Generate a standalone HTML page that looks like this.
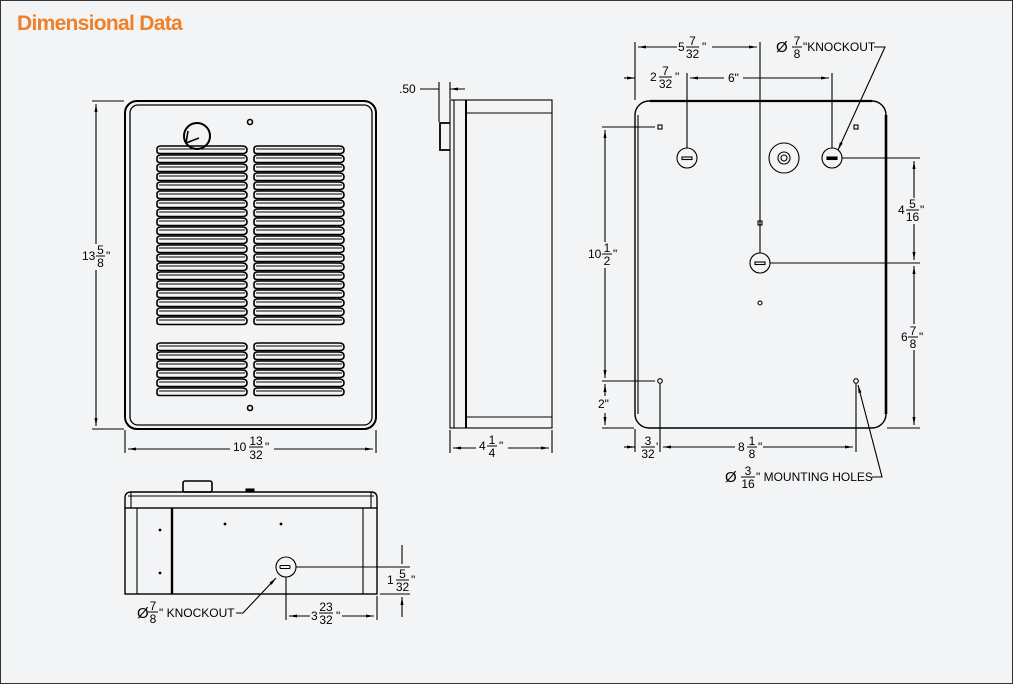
<!DOCTYPE html>
<html><head><meta charset="utf-8"><style>
html,body{margin:0;padding:0;background:#f3f4f6}
svg{display:block}
text{font-family:"Liberation Sans",sans-serif;font-size:12px;fill:#000}
.t{font-family:"Liberation Sans",sans-serif;font-size:21px;font-weight:bold;fill:#f07f2a;letter-spacing:-0.7px}
.d{font-size:15px}
</style></head><body>
<svg width="1013" height="684" viewBox="0 0 1013 684" xmlns="http://www.w3.org/2000/svg">
<defs>
<marker id="a" viewBox="0 0 8 4" refX="8" refY="2" markerWidth="8" markerHeight="4" markerUnits="userSpaceOnUse" orient="auto-start-reverse"><path d="M0,0.5 L8,2 L0,3.5 Z" fill="#000"/></marker>
<g id="slat" fill="none" stroke="#000" stroke-width="1.6">
<path d="M4,0 H85 Q90,0 90,4 Q90,7.5 86,7.5 H3 Q0,7.5 0,5 V3 Q0,0 4,0 Z"/>
<path d="M2,3 H88" stroke-width="0.9"/>
</g>
</defs>
<rect x="0.5" y="0.5" width="1012" height="683" fill="#f3f4f6" stroke="#333"/>
<text class="t" x="17" y="30">Dimensional Data</text>

<g fill="none" stroke="#000" stroke-width="1.1">
<!-- FRONT VIEW -->
<rect x="125" y="101" width="251" height="328" rx="12" stroke-width="2"/>
<rect x="130" y="105" width="242" height="320" rx="8" stroke-width="1.3"/>
<circle cx="197" cy="136" r="13" stroke-width="2"/>
<path d="M186,143 L199,138 M186,143 L188,131" stroke-width="1.6"/>
<circle cx="250" cy="122" r="2.5" stroke-width="1.6"/>
<circle cx="250" cy="408" r="2.5" stroke-width="1.6"/>
<!-- dims front -->
<path d="M92,101 H124 M92,429 H124"/>
<path d="M96,104 V244 M96,270 V426" marker-start="url(#a)" marker-end="url(#a)"/>
<path d="M125,430 V453 M376,430 V453"/>
<path d="M128,449 H230 M274,449 H373" marker-start="url(#a)" marker-end="url(#a)"/>

<!-- SIDE VIEW -->
<rect x="450" y="100" width="102" height="328"/>
<path d="M454,100 V428"/>
<path d="M466,100 V428" stroke-width="2"/>
<path d="M466,113 H552 M466,417 H552"/>
<path d="M450,123 H440 V150 H450" stroke-width="1.8"/>
<path d="M439,82 V122 M450,82 V99"/>
<path d="M420,89 H439 M465,89 H450" marker-end="url(#a)"/>
<path d="M450,430 V453 M552,430 V453"/>
<path d="M453,448 H476 M508,448 H549" marker-start="url(#a)" marker-end="url(#a)"/>

<!-- BACK VIEW -->
<rect x="635" y="101" width="251" height="327" rx="14" stroke-width="1.4"/>
<path d="M886,115 V414" stroke-width="2.6"/>
<path d="M650,101 H872" stroke-width="2.2"/>
<path d="M638,115 V414"/>
<rect x="658" y="125" width="4" height="4"/>
<rect x="854" y="125" width="4" height="4"/>
<circle cx="687" cy="158" r="10"/><rect x="682" y="157" width="10" height="2.5"/>
<circle cx="784" cy="158" r="15"/><circle cx="784" cy="158" r="6"/><circle cx="784" cy="158" r="3"/>
<circle cx="832" cy="158" r="10"/><rect x="827" y="157" width="10" height="2.5" fill="#000"/>
<circle cx="760" cy="263" r="10"/><rect x="755" y="262" width="10" height="2.5"/>
<rect x="758" y="221" width="4" height="4"/>
<circle cx="760" cy="303" r="2"/>
<circle cx="660" cy="381" r="2.3"/>
<circle cx="856" cy="381" r="2.3"/>
<!-- top dims -->
<path d="M635,42 V100"/>
<path d="M760,42 V253"/>
<path d="M638,47 H677 M712,47 H757" marker-start="url(#a)" marker-end="url(#a)"/>
<path d="M687,73 V148 M832,73 V148"/>
<path d="M690,78 H724 M743,78 H829" marker-start="url(#a)" marker-end="url(#a)"/>
<path d="M624,78 H635" marker-end="url(#a)"/>
<path d="M874,47 H885 L838,150" marker-end="url(#a)"/>
<!-- left dims -->
<path d="M602,127 H655 M602,381 H655 M602,428 H634"/>
<path d="M605,130 V242 M605,268 V378" marker-start="url(#a)" marker-end="url(#a)"/>
<path d="M605,384 V396 M605,413 V425" marker-start="url(#a)" marker-end="url(#a)"/>
<!-- right dims -->
<path d="M842,158 H920 M770,263 H920 M887,428 H920"/>
<path d="M914,161 V198 M914,224 V260" marker-start="url(#a)" marker-end="url(#a)"/>
<path d="M914,266 V324 M914,350 V425" marker-start="url(#a)" marker-end="url(#a)"/>
<!-- bottom dims -->
<path d="M635,429 V452 M660,384 V452 M856,384 V452"/>
<path d="M624,447 H635" marker-end="url(#a)"/>
<path d="M663,447 H735 M763,447 H853" marker-start="url(#a)" marker-end="url(#a)"/>
<path d="M872,477 H882 L858,385" marker-end="url(#a)"/>

<!-- BOTTOM VIEW -->
<path d="M125,508 V498 Q125,492 131,492 H371 Q377,492 377,498 V508" stroke-width="1.4"/>
<path d="M128,496 H374 M131,492 V508 M371,492 V508"/>
<rect x="125" y="508" width="252" height="86" stroke-width="1.4"/>
<path d="M137,508 V594 M363,508 V594"/>
<path d="M172,508 V594" stroke-width="2.4"/>
<rect x="183" y="481" width="29" height="11" rx="2" stroke-width="1.6"/>
<rect x="246" y="489" width="8" height="3" fill="#000"/>
<circle cx="286" cy="567" r="10"/><rect x="280" y="565.5" width="10" height="3" rx="1"/>
<path d="M296,567 H410 M380,594 H410"/>
<path d="M402,545 V564 M402,617 V597" marker-end="url(#a)"/>
<path d="M286,577 V620 M377,596 V620"/>
<path d="M289,616 H310 M342,616 H374" marker-start="url(#a)" marker-end="url(#a)"/>
<path d="M236,613 H243 L276,578" marker-end="url(#a)"/>
</g>
<g fill="#000">
<circle cx="160" cy="530" r="1.4"/><circle cx="160" cy="573" r="1.4"/>
<circle cx="225" cy="524" r="1.4"/><circle cx="281" cy="524" r="1.4"/>
</g>

<!-- louvers -->
<g>
<use href="#slat" x="157" y="146"/><use href="#slat" x="157" y="155"/><use href="#slat" x="157" y="164"/><use href="#slat" x="157" y="173"/><use href="#slat" x="157" y="182"/>
<use href="#slat" x="157" y="191"/><use href="#slat" x="157" y="200"/><use href="#slat" x="157" y="209"/><use href="#slat" x="157" y="218"/><use href="#slat" x="157" y="227"/>
<use href="#slat" x="157" y="236"/><use href="#slat" x="157" y="245"/><use href="#slat" x="157" y="254"/><use href="#slat" x="157" y="263"/><use href="#slat" x="157" y="272"/>
<use href="#slat" x="157" y="281"/><use href="#slat" x="157" y="290"/><use href="#slat" x="157" y="299"/><use href="#slat" x="157" y="308"/><use href="#slat" x="157" y="317"/>
<use href="#slat" x="254" y="146"/><use href="#slat" x="254" y="155"/><use href="#slat" x="254" y="164"/><use href="#slat" x="254" y="173"/><use href="#slat" x="254" y="182"/>
<use href="#slat" x="254" y="191"/><use href="#slat" x="254" y="200"/><use href="#slat" x="254" y="209"/><use href="#slat" x="254" y="218"/><use href="#slat" x="254" y="227"/>
<use href="#slat" x="254" y="236"/><use href="#slat" x="254" y="245"/><use href="#slat" x="254" y="254"/><use href="#slat" x="254" y="263"/><use href="#slat" x="254" y="272"/>
<use href="#slat" x="254" y="281"/><use href="#slat" x="254" y="290"/><use href="#slat" x="254" y="299"/><use href="#slat" x="254" y="308"/><use href="#slat" x="254" y="317"/>
<use href="#slat" x="157" y="343"/><use href="#slat" x="157" y="352"/><use href="#slat" x="157" y="361"/><use href="#slat" x="157" y="370"/><use href="#slat" x="157" y="379"/><use href="#slat" x="157" y="388"/>
<use href="#slat" x="254" y="343"/><use href="#slat" x="254" y="352"/><use href="#slat" x="254" y="361"/><use href="#slat" x="254" y="370"/><use href="#slat" x="254" y="379"/><use href="#slat" x="254" y="388"/>
</g>

<!-- labels -->
<g stroke="#000" stroke-width="1">
<line x1="96" x2="105" y1="256" y2="256"/>
<line x1="249" x2="263" y1="447" y2="447"/>
<line x1="487" x2="497" y1="446" y2="446"/>
<line x1="686" x2="699" y1="47" y2="47"/>
<line x1="659" x2="672" y1="77" y2="77"/>
<line x1="792" x2="802" y1="47" y2="47"/>
<line x1="602" x2="612" y1="254" y2="254"/>
<line x1="906" x2="919" y1="210" y2="210"/>
<line x1="908" x2="918" y1="337" y2="337"/>
<line x1="641" x2="655" y1="447" y2="447"/>
<line x1="747" x2="757" y1="447" y2="447"/>
<line x1="741" x2="755" y1="477" y2="477"/>
<line x1="396" x2="409" y1="580" y2="580"/>
<line x1="319" x2="333" y1="613" y2="613"/>
<line x1="148" x2="158" y1="612" y2="612"/>
</g>
<g>
<text x="82" y="260">13</text><text x="100.5" y="254" text-anchor="middle">5</text><text x="100.5" y="267" text-anchor="middle">8</text><text x="106" y="260">"</text>
<text x="233" y="451">10</text><text x="256" y="445" text-anchor="middle">13</text><text x="256" y="459" text-anchor="middle">32</text><text x="265" y="451">"</text>
<text x="399" y="93">.50</text>
<text x="479" y="450">4</text><text x="492" y="444" text-anchor="middle">1</text><text x="492" y="457" text-anchor="middle">4</text><text x="499" y="450">"</text>
<text x="678" y="51">5</text><text x="692.5" y="45" text-anchor="middle">7</text><text x="692.5" y="58" text-anchor="middle">32</text><text x="702" y="51">"</text>
<text x="650" y="81">2</text><text x="665.5" y="75" text-anchor="middle">7</text><text x="665.5" y="88" text-anchor="middle">32</text><text x="675" y="81">"</text>
<text x="728" y="82">6"</text>
<text class="d" x="776" y="52">Ø</text><text x="797" y="45" text-anchor="middle">7</text><text x="797" y="58" text-anchor="middle">8</text><text x="803" y="51">"KNOCKOUT</text>
<text x="588" y="258">10</text><text x="607" y="252" text-anchor="middle">1</text><text x="607" y="265" text-anchor="middle">2</text><text x="613" y="258">"</text>
<text x="598" y="408">2"</text>
<text x="898" y="214">4</text><text x="912.5" y="208" text-anchor="middle">5</text><text x="912.5" y="221" text-anchor="middle">16</text><text x="920" y="214">"</text>
<text x="901" y="341">6</text><text x="913" y="335" text-anchor="middle">7</text><text x="913" y="348" text-anchor="middle">8</text><text x="919" y="341">"</text>
<text x="648" y="445" text-anchor="middle">3</text><text x="648" y="458" text-anchor="middle">32</text><text x="656" y="451">'</text>
<text x="738" y="451">8</text><text x="752" y="445" text-anchor="middle">1</text><text x="752" y="458" text-anchor="middle">8</text><text x="758" y="451">"</text>
<text class="d" x="725" y="482">Ø</text><text x="748" y="475" text-anchor="middle">3</text><text x="748" y="488" text-anchor="middle">16</text><text x="756" y="481">" MOUNTING HOLES</text>
<text x="387" y="584">1</text><text x="402.5" y="578" text-anchor="middle">5</text><text x="402.5" y="591" text-anchor="middle">32</text><text x="411" y="584">"</text>
<text x="311" y="620">3</text><text x="326" y="611" text-anchor="middle">23</text><text x="326" y="624" text-anchor="middle">32</text><text x="336" y="620">"</text>
<text class="d" x="137" y="618">Ø</text><text x="153" y="610" text-anchor="middle">7</text><text x="153" y="623" text-anchor="middle">8</text><text x="159" y="617">" KNOCKOUT</text>
</g>
</svg>
</body></html>
